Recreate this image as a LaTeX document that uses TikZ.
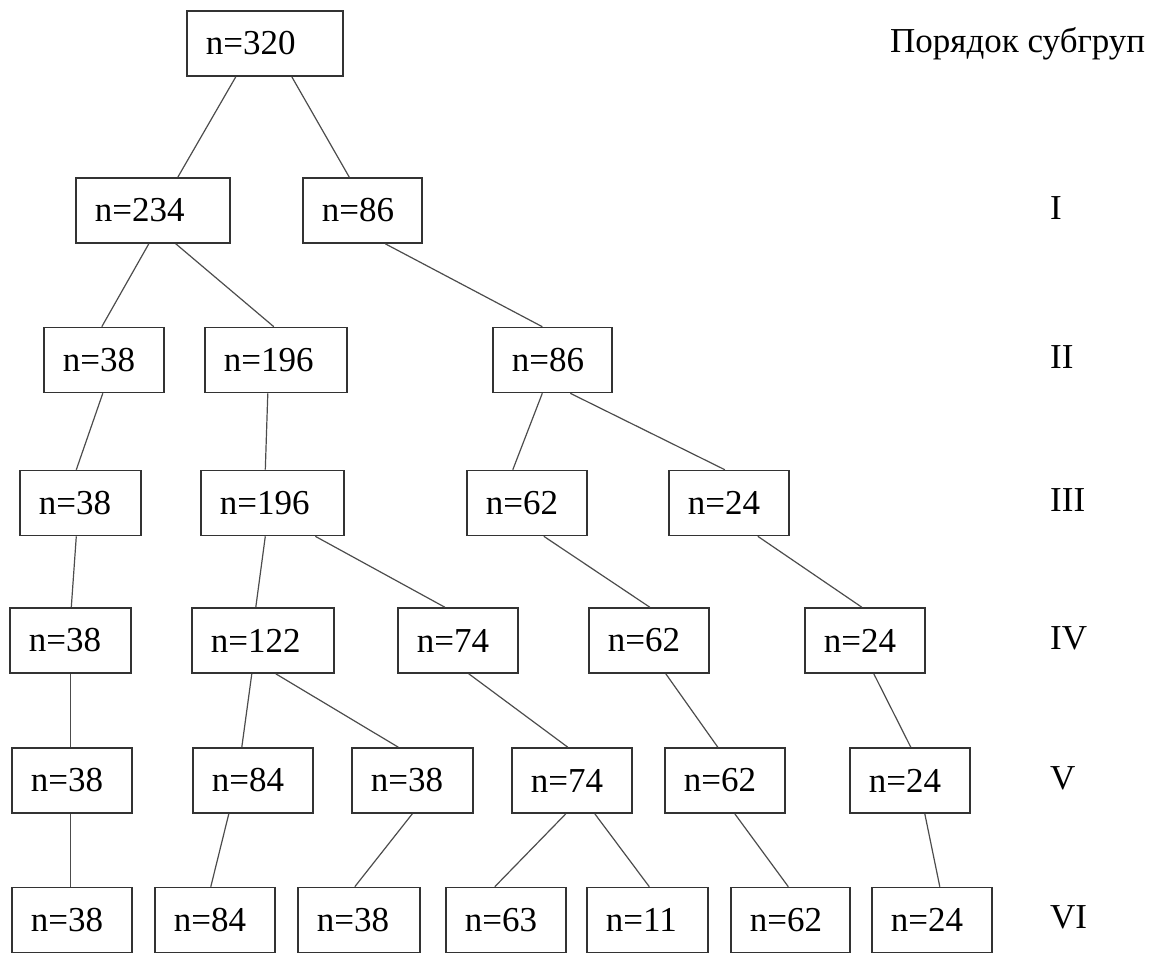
\documentclass[tikz,border=0pt]{standalone}
\usepackage{fontspec}
\setmainfont{Liberation Serif}

\begin{document}
\begin{tikzpicture}[x=1pt,y=-1pt,
  grp/.style={draw=black!80,line width=1.6pt,anchor=west,inner xsep=19pt,inner ysep=0pt,
    minimum height=65pt,text width=82pt,align=left,font=\fontsize{35}{42}\selectfont},
  lvl/.style={anchor=base west,inner sep=0pt,font=\fontsize{35}{42}\selectfont},
  link/.style={draw=black!70,line width=1.2pt}]
  \useasboundingbox (0,0) rectangle (1161,954);

  % level 0
  \node[grp,text width=118pt] (n320) at (186,43.5) {n=320};
  \node[lvl] (head) at (890,52) {Порядок субгруп};

  % level I
  \node[grp,text width=116pt] (n234) at (75,210.5) {n=234};
  \node[grp,text width=81pt] (n86a) at (302,210.5) {n=86};
  \node[lvl] (l1) at (1050,219) {I};

  % level II
  \node[grp] (n38b) at (43,360) {n=38};
  \node[grp,text width=104pt] (n196b) at (204,360) {n=196};
  \node[grp,text width=81pt] (n86b) at (492,360) {n=86};
  \node[lvl] (l2) at (1050,368.5) {II};

  % level III
  \node[grp,text width=83pt] (n38c) at (19,503) {n=38};
  \node[grp,text width=105pt] (n196c) at (200,503) {n=196};
  \node[grp] (n62c) at (466,503) {n=62};
  \node[grp] (n24c) at (668,503) {n=24};
  \node[lvl] (l3) at (1050,511.5) {III};

  % level IV
  \node[grp,text width=83pt] (n38d) at (9,640.5) {n=38};
  \node[grp,text width=104pt] (n122d) at (191,640.5) {n=122};
  \node[grp] (n74d) at (397,640.5) {n=74};
  \node[grp] (n62d) at (588,640.5) {n=62};
  \node[grp] (n24d) at (804,640.5) {n=24};
  \node[lvl] (l4) at (1050,649) {IV};

  % level V
  \node[grp] (n38e) at (11,780.5) {n=38};
  \node[grp] (n84e) at (192,780.5) {n=84};
  \node[grp,text width=83pt] (n38f) at (351,780.5) {n=38};
  \node[grp] (n74e) at (511,780.5) {n=74};
  \node[grp] (n62e) at (664,780.5) {n=62};
  \node[grp] (n24e) at (849,780.5) {n=24};
  \node[lvl] (l5) at (1050,789) {V};

  % level VI
  \node[grp] (n38g) at (11,920) {n=38};
  \node[grp] (n84g) at (154,920) {n=84};
  \node[grp,text width=84pt] (n38h) at (297,920) {n=38};
  \node[grp] (n63g) at (445,920) {n=63};
  \node[grp,text width=83pt] (n11g) at (586,920) {n=11};
  \node[grp,text width=81pt] (n62g) at (730,920) {n=62};
  \node[grp] (n24g) at (871,920) {n=24};
  \node[lvl] (l6) at (1050,928.5) {VI};

  % splits
  \draw[link] ([xshift=-29pt]n320.south) -- ([xshift=25pt]n234.north);
  \draw[link] ([xshift=27pt]n320.south) -- ([xshift=-13pt]n86a.north);
  \draw[link] ([xshift=-4pt]n234.south) -- ([xshift=-2pt]n38b.north);
  \draw[link] ([xshift=23pt]n234.south) -- ([xshift=-2pt]n196b.north);
  \draw[link] ([xshift=23pt]n86a.south) -- ([xshift=-10pt]n86b.north);
  \draw[link] ([xshift=-1pt]n38b.south) -- ([xshift=-4pt]n38c.north);
  \draw[link] ([xshift=-8pt]n196b.south) -- ([xshift=-7pt]n196c.north);
  \draw[link] ([xshift=-10pt]n86b.south) -- ([xshift=-14pt]n62c.north);
  \draw[link] ([xshift=18pt]n86b.south) -- ([xshift=-4pt]n24c.north);
  \draw[link] ([xshift=-4pt]n38c.south) -- ([xshift=1pt]n38d.north);
  \draw[link] ([xshift=-7pt]n196c.south) -- ([xshift=-7pt]n122d.north);
  \draw[link] ([xshift=43pt]n196c.south) -- ([xshift=-13pt]n74d.north);
  \draw[link] ([xshift=17pt]n62c.south) -- ([xshift=1pt]n62d.north);
  \draw[link] ([xshift=29pt]n24c.south) -- ([xshift=-3pt]n24d.north);
  \draw[link] ([xshift=0pt]n38d.south) -- ([xshift=-1.5pt]n38e.north);
  \draw[link] ([xshift=-11pt]n122d.south) -- ([xshift=-11pt]n84e.north);
  \draw[link] ([xshift=13pt]n122d.south) -- ([xshift=-14pt]n38f.north);
  \draw[link] ([xshift=11pt]n74d.south) -- ([xshift=-4pt]n74e.north);
  \draw[link] ([xshift=17pt]n62d.south) -- ([xshift=-7pt]n62e.north);
  \draw[link] ([xshift=9pt]n24d.south) -- ([xshift=1pt]n24e.north);
  \draw[link] ([xshift=-1.5pt]n38e.south) -- ([xshift=-1.5pt]n38g.north);
  \draw[link] ([xshift=-24pt]n84e.south) -- ([xshift=-4pt]n84g.north);
  \draw[link] ([xshift=0pt]n38f.south) -- ([xshift=-4pt]n38h.north);
  \draw[link] ([xshift=-6pt]n74e.south) -- ([xshift=-11pt]n63g.north);
  \draw[link] ([xshift=23pt]n74e.south) -- ([xshift=2pt]n11g.north);
  \draw[link] ([xshift=10pt]n62e.south) -- ([xshift=-2pt]n62g.north);
  \draw[link] ([xshift=15pt]n24e.south) -- ([xshift=8pt]n24g.north);
\end{tikzpicture}
\end{document}
